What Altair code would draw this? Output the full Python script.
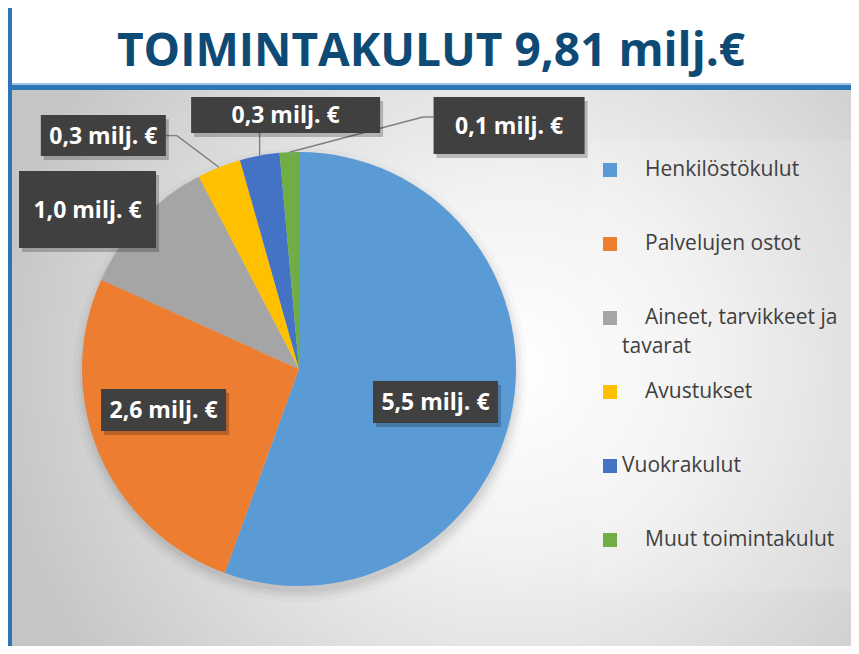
import math
import altair as alt
import pandas as pd

# ---------------- data ----------------
categories = [
    "Henkilöstökulut",
    "Palvelujen ostot",
    "Aineet, tarvikkeet ja tavarat",
    "Avustukset",
    "Vuokrakulut",
    "Muut toimintakulut",
]
values = [5.45, 2.57, 1.04, 0.32, 0.29, 0.14]  # milj. €
value_labels = ["5,5 milj. €", "2,6 milj. €", "1,0 milj. €", "0,3 milj. €", "0,3 milj. €", "0,1 milj. €"]
legend_labels = [
    "Henkilöstökulut",
    "Palvelujen ostot",
    "Aineet, tarvikkeet ja\ntavarat",
    "Avustukset",
    "Vuokrakulut",
    "Muut toimintakulut",
]
colors = ["#5b9bd5", "#ed7d31", "#a5a5a5", "#ffc000", "#4472c4", "#70ad47"]
title_text = "TOIMINTAKULUT 9,81 milj.€"

df = pd.DataFrame({"cat": categories, "value": values, "label": value_labels, "legend": legend_labels})

# ---------------- layout constants ----------------
W, H = 843, 638
CX, CY, R = 291, 361, 217

# data-label layout (like Excel's hand-placed labels): anchor radius along the
# slice's mid angle, nudge from anchor to box centre, box size, leader geometry
LAB_R = [140, 140, 217, 217, 217, 217]
LAB_DX = [-1.4, -6.4, -53.8, -115.6, 26, 219.8]
LAB_DY = [8.7, -13.3, -10.4, -31.7, -40.6, -26.7]
BOX_W = [125, 125, 137, 125, 189, 151]
BOX_H = [42, 42, 77, 41, 36, 57]
LEAD = [0, 0, 0, 1, 1, 1]
ELB_X = [0, 0, 0, 73.5, -26, -86]
ELB_Y = [0, 0, 0, 0, 18, -8.5]
END_X = [0, 0, 0, 62.5, -26, -75.5]
END_Y = [0, 0, 0, 0, 18, -8.5]
LEG_Y0, LEG_STEP = 162, 74
LEG_X, LEG_INDENT_PX = 614, 23
LEG_INDENT = [1, 1, 1, 1, 0, 1]   # legend entries that carry a leading tab in the source


def pick(arr):
    return "[" + ",".join(str(v) for v in arr) + "][datum.i]"


base = (
    alt.Chart(df)
    .transform_window(rn="row_number()")
    .transform_calculate(i="datum.rn - 1")
    .transform_window(cum="sum(value)", frame=[None, 0], sort=[alt.SortField("i")])
    .transform_joinaggregate(total="sum(value)")
    .transform_calculate(mid="2*PI*(datum.cum - datum.value/2)/datum.total")
    .transform_calculate(
        ax=f"{CX} + {pick(LAB_R)}*sin(datum.mid)",
        ay=f"{CY} - {pick(LAB_R)}*cos(datum.mid)",
    )
    .transform_calculate(
        bx=f"datum.ax + {pick(LAB_DX)}",
        by=f"datum.ay + {pick(LAB_DY)}",
        bw=pick(BOX_W),
        bh=pick(BOX_H),
        lead=pick(LEAD),
    )
    .transform_calculate(
        x1="datum.bx - datum.bw/2",
        x2="datum.bx + datum.bw/2",
        y1="datum.by - datum.bh/2",
        y2="datum.by + datum.bh/2",
        ex=f"datum.bx + {pick(ELB_X)}",
        ey=f"datum.by + {pick(ELB_Y)}",
        fx=f"datum.bx + {pick(END_X)}",
        fy=f"datum.by + {pick(END_Y)}",
        ly=f"{LEG_Y0} + {LEG_STEP}*datum.i",
        lx=f"{LEG_X} + {LEG_INDENT_PX}*{pick(LEG_INDENT)}",
        line1="split(datum.legend, '\\n')[0]",
        rest="join(slice(split(datum.legend, '\\n'), 1), '\\n')",
    )
    .transform_calculate(
        sx1="datum.x1 + 3", sx2="datum.x2 + 3", sy1="datum.y1 + 4", sy2="datum.y2 + 4",
        ly2="datum.ly + 29",
    )
)

color = alt.Color("cat:N", scale=alt.Scale(domain=categories, range=colors), legend=None)

decor = alt.Chart(alt.Data(values=[{"k": 1}]))

bg = decor.mark_rect(
    color=alt.RadialGradient(
        gradient="radial",
        stops=[
            alt.GradientStop(offset=0, color="#ffffff"),
            alt.GradientStop(offset=0.35, color="#f2f2f2"),
            alt.GradientStop(offset=1, color="#c6c6c6"),
        ],
        x1=0.6, y1=0.5, x2=0.6, y2=0.5, r1=0, r2=0.62,
    )
).encode(x=alt.value(4), x2=alt.value(W), y=alt.value(82), y2=alt.value(H))

legend_box = decor.mark_rect(color="white", opacity=0.12).encode(
    x=alt.value(582), x2=alt.value(W), y=alt.value(132), y2=alt.value(583)
)
line_light = decor.mark_rect(color="#9dc3e6").encode(
    x=alt.value(0), x2=alt.value(W), y=alt.value(75), y2=alt.value(77)
)
line_dark = decor.mark_rect(color="#2e75b6").encode(
    x=alt.value(0), x2=alt.value(W), y=alt.value(77), y2=alt.value(82)
)
left_bar = decor.mark_rect(color="#2e75b6").encode(
    x=alt.value(0), x2=alt.value(4), y=alt.value(0), y2=alt.value(H)
)
title = decor.mark_text(
    text=title_text, font="Open Sans", fontWeight="bold", fontSize=46,
    color="#0d4a76", align="center", baseline="alphabetic",
).encode(x=alt.value(423), y=alt.value(58))

shadows = [
    decor.mark_arc(radius=R + d, theta=0, theta2=2 * math.pi, color="black", opacity=op).encode(
        x=alt.value(CX + 1), y=alt.value(CY + 6)
    )
    for d, op in [(0, 0.045), (3, 0.035), (6, 0.03), (10, 0.02)]
]

pie = base.mark_arc(radius=R).encode(
    theta=alt.Theta("value:Q", stack=True),
    order=alt.Order("i:Q"),
    color=color,
    x=alt.value(CX),
    y=alt.value(CY),
)

lead1 = base.transform_filter("datum.lead == 1").mark_rule(color="#7f7f7f", strokeWidth=1.4).encode(
    x=alt.X("ax:Q", scale=None), y=alt.Y("ay:Q", scale=None), x2=alt.X2("ex:Q"), y2=alt.Y2("ey:Q")
)
lead2 = base.transform_filter("datum.lead == 1").mark_rule(color="#7f7f7f", strokeWidth=1.4).encode(
    x=alt.X("ex:Q", scale=None), y=alt.Y("ey:Q", scale=None), x2=alt.X2("fx:Q"), y2=alt.Y2("fy:Q")
)

box_shadow = base.mark_rect(color="black", opacity=0.22).encode(
    x=alt.X("sx1:Q", scale=None), x2=alt.X2("sx2:Q"), y=alt.Y("sy1:Q", scale=None), y2=alt.Y2("sy2:Q")
)
boxes = base.mark_rect(color="#404040").encode(
    x=alt.X("x1:Q", scale=None), x2=alt.X2("x2:Q"), y=alt.Y("y1:Q", scale=None), y2=alt.Y2("y2:Q")
)
texts = base.mark_text(
    font="Open Sans", fontWeight="bold", fontSize=23, color="white",
    align="center", baseline="alphabetic", dy=8,
).encode(x=alt.X("bx:Q", scale=None), y=alt.Y("by:Q", scale=None), text="label:N")

leg_sq = base.mark_square(size=196, opacity=1).encode(
    x=alt.value(602), y=alt.Y("ly:Q", scale=None), color=color
)
leg_style = dict(align="left", baseline="alphabetic", dy=6, font="Open Sans", fontSize=21, color="#404040")
leg_txt = base.mark_text(**leg_style).encode(
    x=alt.X("lx:Q", scale=None), y=alt.Y("ly:Q", scale=None), text="line1:N"
)
leg_txt2 = base.transform_filter("datum.rest != ''").mark_text(**leg_style).encode(
    x=alt.value(LEG_X), y=alt.Y("ly2:Q", scale=None), text="rest:N"
)

chart = alt.layer(
    bg, legend_box, line_light, line_dark, left_bar, title,
    *shadows, pie, lead1, lead2, box_shadow, boxes, texts, leg_sq, leg_txt, leg_txt2,
).properties(
    width=W, height=H, padding=0, background="white",
    autosize=alt.AutoSizeParams(type="none"),
).configure_view(strokeWidth=0)

chart.save("out.html", embed_options={"renderer": "svg", "actions": False})
